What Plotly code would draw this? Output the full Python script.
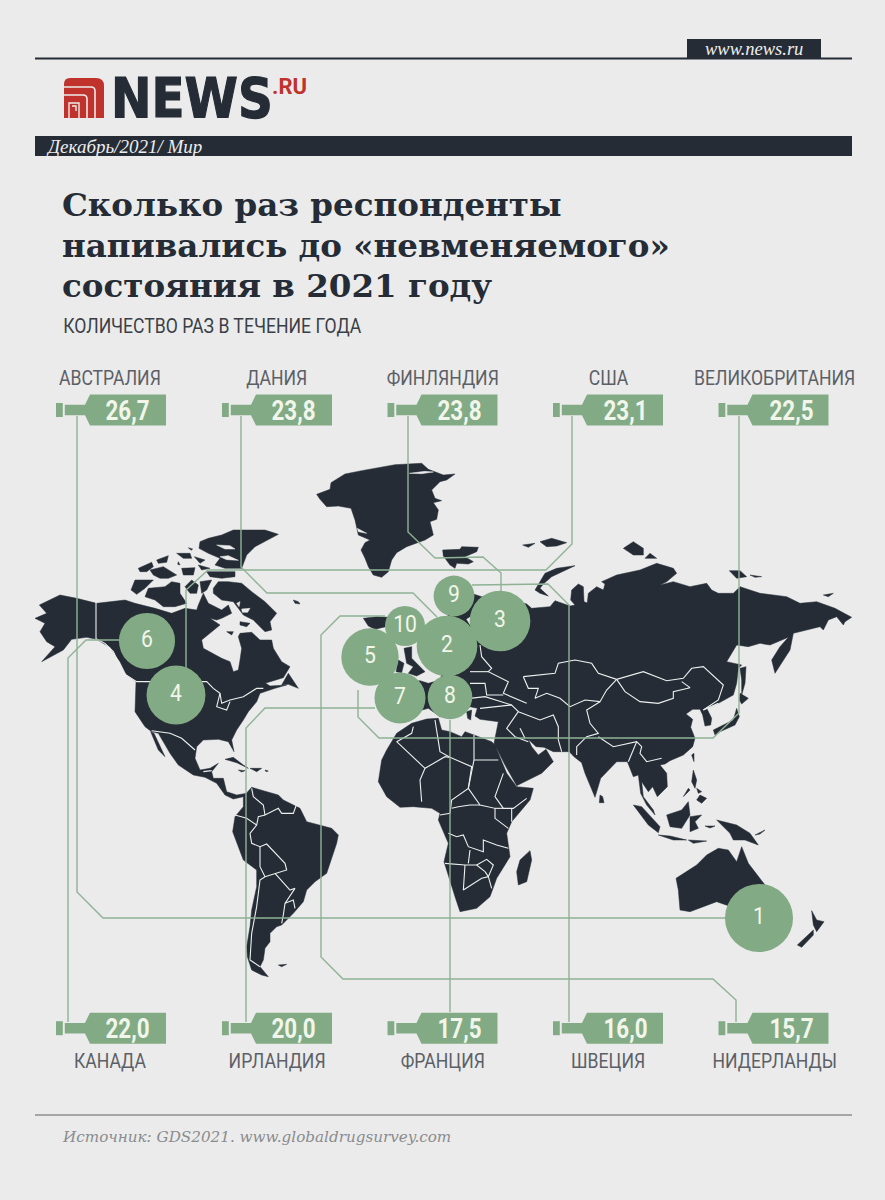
import plotly.graph_objects as go

BG = "#ebebeb"
DARK = "#252c36"
GREEN = "#82ab85"
LINE = "#8fb295"
NARROW = "Roboto"  # squeezed in the page script at the end, no condensed face installed

# order = number on the map
countries = ["АВСТРАЛИЯ", "ДАНИЯ", "ФИНЛЯНДИЯ", "США", "ВЕЛИКОБРИТАНИЯ",
             "КАНАДА", "ИРЛАНДИЯ", "ФРАНЦИЯ", "ШВЕЦИЯ", "НИДЕРЛАНДЫ"]
values = [26.7, 23.8, 23.8, 23.1, 22.5, 22.0, 20.0, 17.5, 16.0, 15.7]
value_labels = ["26,7", "23,8", "23,8", "23,1", "22,5", "22,0", "20,0", "17,5", "16,0", "15,7"]
ranks = ["1", "2", "3", "4", "5", "6", "7", "8", "9", "10"]
bubble_x = [759, 447, 500, 176, 370, 147, 400, 450, 454, 405]
bubble_y = [918, 646, 621, 695, 657, 641, 698, 697, 596, 626]
bubble_scale = 2.55


def z(ox, oy, pts):
    return [(ox + a / 3, oy + b / 3) for a, b in pts]


# connectors, top row then bottom row
connectors = [
    [(77, 416), (77, 892), (103, 918), (725, 918)],
    [(241, 416), (241, 567), (267, 593), (413, 593), (437, 617)],
    [(408, 416), (408, 532), (435, 558), (483, 557), (501, 573), (501, 591)],
    [(572, 416), (572, 544), (546, 570), (208, 570), (186, 590), (186, 668)],
    [(739, 416), (739, 713), (713, 738), (379, 738), (358, 717), (358, 690)],
    [(68, 1022), (68, 658), (86, 640), (120, 640)],
    [(246, 1022), (246, 728), (265, 708), (375, 708)],
    [(450, 1012), (450, 720)],
    [(569, 1022), (569, 605), (548, 584), (472, 585)],
    [(736, 1022), (736, 1000), (713, 979), (343, 979), (321, 957), (321, 635), (340, 616), (385, 616)],
]

land = [
    # Greenland
    z(315, 460, [(5, 103), (45, 88), (48, 68), (90, 42), (140, 32), (200, 22), (240, 14), (320, 10), (340, 28),
                 (385, 45), (420, 42), (395, 60), (375, 65), (350, 90), (360, 115), (380, 122), (355, 128),
                 (370, 150), (365, 178), (345, 185), (355, 225), (330, 240), (300, 252), (275, 260), (245, 278),
                 (230, 300), (220, 335), (200, 352), (175, 345), (160, 320), (150, 295), (138, 270), (150, 248),
                 (165, 240), (130, 225), (120, 180), (108, 145), (70, 138), (35, 140), (15, 118)]),
    # Arctic islands east
    z(300, 450, [(428, 300), (480, 298), (485, 290), (535, 292), (530, 305), (495, 320), (520, 335), (505, 342),
                 (470, 340), (465, 355), (450, 345), (430, 318)]),
    z(300, 450, [(668, 285), (705, 280), (685, 292)]),
    z(300, 450, [(720, 275), (755, 265), (800, 278), (770, 288), (740, 290)]),
    z(440, 360, [(405, 617), (375, 632), (335, 650), (310, 672), (300, 685), (325, 708), (300, 700), (285, 690),
                 (300, 665), (315, 640), (350, 625)]),
    z(440, 360, [(550, 565), (580, 545), (610, 565), (610, 585), (580, 585)]),
    z(440, 360, [(615, 595), (630, 580), (650, 595)]),
    z(440, 360, [(1150, 705), (1180, 700), (1165, 710)]),
    z(440, 360, [(868, 632), (900, 632), (920, 650), (890, 655)]),
    z(440, 360, [(930, 645), (965, 650), (945, 652)]),
    # Iceland, Britain, Ireland
    z(30, 360, [(1000, 775), (1040, 770), (1075, 772), (1068, 800), (1035, 808), (1015, 798)]),
    z(300, 450, [(312, 595), (335, 590), (335, 625), (360, 650), (375, 665), (350, 678), (325, 670), (340, 650),
                 (320, 640)]),
    z(300, 450, [(295, 630), (312, 640), (305, 668), (288, 665)]),
    z(300, 450, [(500, 785), (515, 780), (512, 810), (503, 805)]),
    # Eurasia
    z(300, 450, [(470, 800), (420, 800), (385, 775), (330, 790), (280, 760), (290, 700), (360, 692), (385, 700),
                 (420, 690), (430, 660), (420, 560), (450, 480), (450, 420), (520, 432), (545, 440), (600, 440),
                 (680, 462), (695, 475)])
    + z(440, 360, [(330, 740), (345, 722), (390, 738), (405, 735), (392, 720), (395, 690), (415, 672), (430, 680),
                   (432, 725), (445, 730), (465, 735), (450, 755), (425, 768), (408, 770), (440, 745), (445, 700),
                   (470, 680), (490, 690), (495, 672), (485, 665), (530, 645), (600, 630), (650, 610), (700, 625),
                   (710, 640), (680, 665), (660, 675), (700, 665), (750, 680), (800, 670), (815, 690), (835, 700),
                   (880, 700), (900, 680), (960, 700), (1000, 705), (1040, 710), (1080, 730), (1130, 725),
                   (1185, 745), (1235, 772), (1215, 785), (1210, 795), (1190, 770), (1165, 780), (1150, 810),
                   (1140, 800), (1060, 820), (1050, 870), (1005, 940), (995, 900), (1020, 860), (1045, 832),
                   (990, 855), (960, 850), (925, 860), (890, 855), (860, 905), (905, 915)])
    + z(470, 640, [(805, 85), (800, 130), (790, 165), (745, 190), (710, 205), (725, 235), (722, 255), (705, 258),
                   (698, 225), (690, 208), (668, 208), (648, 222), (668, 238), (662, 262), (675, 295), (668, 320),
                   (640, 345), (600, 362), (585, 372), (570, 375), (590, 400), (592, 440), (562, 470), (548, 440),
                   (535, 455), (515, 425), (520, 470), (550, 510), (555, 525), (530, 495), (512, 460), (505, 405),
                   (490, 410), (472, 365), (440, 365), (392, 415), (375, 472), (345, 400), (335, 368), (312, 350),
                   (298, 335), (250, 335), (222, 322), (198, 320), (175, 298), (185, 320), (205, 345), (228, 328),
                   (250, 365), (215, 400), (140, 437), (105, 375), (72, 310), (85, 245), (30, 238), (15, 228),
                   (22, 205), (0, 200)]),
    # Asia islands
    z(470, 640, [(390, 465), (398, 470), (402, 488), (388, 488)]),
    z(470, 640, [(810, 85), (828, 80), (825, 130), (815, 165), (815, 120)]),
    z(470, 640, [(810, 160), (835, 175), (815, 192), (808, 180)]),
    z(470, 640, [(730, 270), (760, 255), (790, 240), (800, 205), (808, 230), (795, 255), (750, 275), (735, 285)]),
    z(470, 640, [(665, 345), (672, 340), (672, 365)]),
    z(440, 760, [(580, 135), (605, 140), (660, 200), (655, 218), (625, 195)]),
    z(440, 760, [(655, 225), (690, 228), (740, 240), (700, 240)]),
    z(440, 760, [(745, 240), (800, 243), (760, 250)]),
    z(440, 760, [(680, 165), (725, 150), (745, 125), (750, 165), (725, 205), (690, 200)]),
    z(440, 760, [(750, 170), (785, 165), (765, 185), (775, 205), (750, 215)]),
    z(440, 760, [(830, 180), (850, 185), (890, 195), (930, 220), (955, 255), (915, 240), (880, 240), (870, 220),
                 (855, 205)]),
    z(440, 760, [(945, 225), (975, 210), (960, 222)]),
    z(440, 760, [(760, 30), (770, 60), (765, 85), (755, 65)]),
    z(440, 760, [(780, 105), (800, 115), (785, 130), (770, 120)]),
    z(440, 760, [(770, 85), (785, 95), (775, 100)]),
    z(440, 760, [(745, 85), (730, 110), (750, 90)]),
    z(440, 760, [(795, 198), (825, 198), (810, 204)]),
    # Australia, New Zealand
    z(440, 760, [(708, 355), (770, 315), (800, 285), (835, 265), (865, 270), (890, 305), (905, 260), (925, 310),
                 (975, 375), (1000, 420), (960, 470), (870, 440), (830, 425), (790, 440), (750, 455), (720, 450),
                 (715, 390)]),
    z(440, 760, [(1115, 452), (1130, 480), (1152, 485), (1130, 515), (1120, 495)]),
    z(440, 760, [(1120, 510), (1120, 525), (1085, 562), (1072, 555)]),
    # North America
    z(30, 360, [(35, 905), (100, 870), (125, 838), (170, 832), (200, 838), (240, 862), (270, 905), (290, 945),
                (318, 965), (315, 1020)])
    + z(30, 700, [(315, 35), (345, 80), (365, 95), (385, 100), (420, 160), (445, 195), (490, 225), (525, 232),
                  (560, 250), (585, 285), (610, 297), (640, 290), (650, 280), (620, 285), (590, 275), (580, 235),
                  (550, 235), (545, 215), (565, 190), (540, 205), (510, 210), (495, 175), (500, 140), (520, 120),
                  (565, 118), (595, 125), (612, 155), (605, 120), (620, 90), (640, 60), (655, 35), (680, 5)])
    + z(30, 360, [(690, 1000), (735, 985), (770, 975), (720, 978), (700, 965)])
    + z(125, 525, [(420, 475), (475, 458), (495, 425), (470, 410), (445, 370), (440, 345), (405, 345), (380, 322),
                   (345, 325), (340, 335), (350, 370), (345, 405), (340, 435), (325, 440), (315, 410), (290, 400),
                   (235, 370), (230, 345), (285, 300), (255, 280), (275, 285), (290, 280), (320, 265), (310, 240),
                   (290, 255), (250, 235), (235, 205), (220, 240), (215, 255), (180, 250), (140, 265), (90, 250),
                   (30, 235), (0, 225)])
    + z(30, 360, [(200, 730), (140, 715), (90, 705), (28, 735), (50, 760), (15, 775), (45, 790), (30, 815),
                  (50, 845), (75, 860)]),
    z(30, 700, [(362, 95), (372, 100), (405, 170), (385, 150)]),
    z(125, 525, [(470, 480), (490, 445), (520, 490), (490, 478)]),
    z(125, 525, [(505, 225), (520, 230), (525, 237), (510, 235)]),
    # Canadian Arctic
    z(125, 525, [(250, 40), (290, 30), (325, 15), (385, 15), (420, 15), (460, 28), (420, 50), (390, 65), (365, 90),
                 (350, 130), (300, 130), (270, 120), (285, 100), (250, 85), (222, 70), (225, 50)]),
    z(125, 525, [(245, 140), (290, 140), (330, 140), (330, 155), (290, 160), (255, 155)]),
    z(125, 525, [(155, 85), (195, 85), (200, 100), (175, 100)]),
    z(125, 525, [(190, 68), (203, 72), (198, 76)]),
    z(125, 525, [(208, 95), (240, 105), (225, 115)]),
    z(125, 525, [(160, 110), (165, 120), (158, 118)]),
    z(125, 525, [(220, 120), (255, 130), (230, 135)]),
    z(125, 525, [(95, 105), (130, 92), (125, 112), (100, 115)]),
    z(125, 525, [(40, 130), (80, 112), (85, 125), (65, 140), (45, 140)]),
    z(125, 525, [(75, 135), (115, 125), (155, 150), (130, 160), (105, 160), (85, 150)]),
    z(125, 525, [(170, 130), (210, 128), (205, 150), (175, 150)]),
    z(125, 525, [(18, 195), (30, 165), (85, 165), (60, 190), (35, 208)]),
    z(125, 525, [(70, 190), (120, 185), (140, 170), (165, 175), (165, 205), (185, 235), (150, 245), (115, 245),
                 (90, 225), (60, 215)]),
    z(125, 525, [(180, 185), (200, 165), (220, 180), (215, 205), (195, 205)]),
    z(125, 525, [(225, 170), (260, 165), (245, 195), (230, 205)]),
    z(125, 525, [(265, 190), (280, 170), (310, 170), (350, 175), (380, 200), (420, 230), (455, 265), (435, 290),
                 (440, 315), (420, 320), (385, 285), (355, 270), (325, 230), (290, 225), (265, 205)]),
    z(125, 525, [(345, 290), (375, 295), (365, 305), (345, 300)]),
    z(125, 525, [(305, 320), (325, 320), (320, 330)]),
    # Caribbean
    z(30, 700, [(585, 178), (610, 172), (640, 195), (655, 205), (620, 188)]),
    z(30, 700, [(660, 205), (695, 205), (680, 215)]),
    z(30, 700, [(625, 210), (645, 212), (635, 216)]),
    z(30, 700, [(705, 210), (715, 213), (708, 215)]),
    # South America
    z(30, 700, [(640, 290), (665, 262), (700, 272), (745, 285), (760, 300), (810, 325), (830, 365), (870, 375),
                (905, 385), (925, 405), (920, 430), (890, 520), (855, 545), (830, 570), (820, 605), (790, 640),
                (770, 660), (755, 675), (740, 680), (720, 700), (720, 725), (705, 745), (700, 780), (690, 800),
                (715, 830), (695, 825), (665, 810), (652, 770), (650, 740), (660, 680), (665, 630), (680, 560),
                (680, 510), (640, 480), (608, 395), (615, 350), (640, 320)]),
    z(30, 700, [(745, 795), (770, 793), (755, 800)]),
    # Africa
    z(370, 700, [(80, 100), (125, 70), (170, 57), (205, 55), (215, 90), (240, 95), (275, 110), (285, 95), (312, 105),
                 (365, 125), (375, 135), (410, 220), (440, 260), (490, 265), (480, 300), (425, 365), (410, 400),
                 (420, 470), (380, 535), (360, 590), (320, 625), (270, 635), (255, 590), (240, 540), (222, 485),
                 (235, 430), (205, 360), (210, 340), (185, 325), (130, 320), (90, 322), (50, 290), (25, 245),
                 (35, 180), (50, 150)]),
    z(370, 700, [(480, 452), (485, 480), (470, 545), (445, 555), (440, 515), (450, 480)]),
]

# Baltic gap between bubbles, fjords, channels, lakes on Baffin
water = [
    z(300, 450, [(500, 508), (512, 500), (512, 527)]),
    z(315, 460, [(283, 40), (330, 34), (355, 36), (320, 41)]),
    z(315, 460, [(127, 205), (155, 220), (130, 215)]),
    z(125, 525, [(275, 60), (315, 62), (330, 72), (300, 72)]),
    z(125, 525, [(285, 95), (310, 92), (340, 106), (305, 104)]),
    z(125, 525, [(335, 235), (345, 230), (342, 245)]),
    z(125, 525, [(350, 252), (375, 250), (368, 262), (352, 262)]),
]

borders = [
    # North America
    z(30, 360, [(198, 725), (198, 836), (225, 850), (250, 875), (280, 940), (320, 965), (530, 965), (550, 985),
                (570, 1000), (575, 1030), (600, 1020), (640, 1010), (680, 985), (700, 985)]),
    z(30, 360, [(570, 1000), (560, 1040), (590, 1050), (600, 1025)]),
    z(30, 700, [(365, 92), (420, 100), (455, 115), (495, 150)]),
    z(30, 700, [(520, 215), (545, 212)]),
    # South America
    z(30, 700, [(665, 265), (670, 290), (700, 315), (705, 345), (745, 325), (755, 340), (790, 340), (800, 312)]),
    z(30, 700, [(705, 345), (685, 350), (680, 375), (660, 400), (665, 430), (690, 440), (710, 432), (765, 490),
                (770, 510), (735, 520), (705, 530), (690, 540), (680, 620), (665, 700), (660, 780), (690, 800)]),
    z(30, 700, [(615, 345), (650, 355), (680, 375)]),
    z(30, 700, [(690, 440), (690, 500), (705, 530)]),
    z(30, 700, [(735, 520), (780, 570), (795, 565), (765, 610), (760, 645), (755, 670)]),
    z(30, 700, [(765, 610), (790, 600), (795, 625)]),
    # Africa
    z(370, 700, [(80, 125), (165, 205), (225, 170), (240, 172), (305, 200), (295, 265), (245, 300), (240, 340),
                 (210, 345)]),
    z(370, 700, [(165, 205), (150, 240), (155, 305)]),
    z(370, 700, [(130, 80), (125, 100), (80, 125)]),
    z(370, 700, [(195, 60), (210, 155), (240, 172)]),
    z(370, 700, [(312, 105), (312, 180), (385, 180)]),
    z(370, 700, [(312, 180), (295, 265), (330, 315), (375, 325), (375, 355), (415, 385)]),
    z(370, 700, [(245, 325), (265, 320), (300, 315), (330, 315)]),
    z(370, 700, [(400, 220), (375, 290), (400, 325), (430, 325), (470, 295)]),
    z(370, 700, [(425, 325), (425, 365)]),
    z(370, 700, [(375, 325), (400, 325)]),
    z(370, 700, [(235, 400), (260, 410), (280, 405), (295, 440), (340, 455), (340, 420), (380, 435), (415, 445)]),
    z(370, 700, [(225, 490), (285, 495), (320, 495), (345, 515)]),
    z(370, 700, [(300, 450), (295, 490)]),
    z(370, 700, [(320, 495), (350, 478), (370, 495), (355, 530), (345, 515)]),
    z(370, 700, [(285, 495), (280, 570), (335, 535), (355, 530), (365, 565)]),
    # Asia
    z(470, 640, [(30, 15), (35, 50), (65, 85), (55, 95), (115, 125), (100, 160), (170, 190)]),
    z(470, 640, [(0, 95), (55, 95)]),
    z(470, 640, [(0, 130), (45, 130), (50, 165), (100, 165)]),
    z(470, 640, [(0, 175), (45, 170), (125, 195)]),
    z(470, 640, [(160, 110), (255, 100), (265, 70), (315, 60), (365, 70), (385, 100), (440, 118), (520, 95),
                 (590, 122), (640, 115), (665, 85), (700, 80), (760, 135), (745, 180), (700, 210)]),
    z(470, 640, [(440, 118), (465, 155), (510, 185), (565, 190), (610, 175), (610, 155), (660, 143), (635, 125)]),
    z(470, 640, [(160, 110), (175, 145), (205, 145), (195, 175), (230, 160), (270, 175), (300, 200), (345, 180),
                 (390, 185), (410, 150), (440, 118)]),
    z(470, 640, [(390, 185), (350, 210), (360, 250), (385, 280), (350, 290), (320, 320), (320, 345)]),
    z(470, 640, [(385, 290), (430, 320), (500, 305), (515, 320), (510, 340), (530, 365), (575, 355)]),
    z(470, 640, [(500, 305), (475, 365)]),
    z(470, 640, [(145, 215), (170, 225), (210, 240), (250, 225), (265, 260), (265, 300), (275, 335)]),
    z(470, 640, [(30, 205), (125, 195), (145, 215), (110, 265), (135, 290), (175, 305)]),
    z(470, 640, [(150, 265), (165, 295)]),
    z(470, 640, [(700, 210), (745, 190)]),
]

fig = go.Figure()


def add_polys(polys, color):
    xs, ys = [], []
    for p in polys:
        xs += [q[0] for q in p] + [p[0][0], None]
        ys += [q[1] for q in p] + [p[0][1], None]
    fig.add_trace(go.Scatter(x=xs, y=ys, mode="lines", fill="toself", fillcolor=color,
                             line=dict(color=color, width=0.5), hoverinfo="skip"))


def add_lines(paths, color, width):
    xs, ys = [], []
    for p in paths:
        xs += [q[0] for q in p] + [None]
        ys += [q[1] for q in p] + [None]
    fig.add_trace(go.Scatter(x=xs, y=ys, mode="lines", line=dict(color=color, width=width), hoverinfo="skip"))


add_polys(land, DARK)
add_polys(water, BG)
add_lines(borders, "#eef0ee", 1.1)
add_lines(connectors, LINE, 1.4)

fig.add_trace(go.Scatter(
    x=bubble_x, y=bubble_y, mode="markers+text", text=ranks, textposition="middle center",
    marker=dict(size=[v * bubble_scale for v in values], color=GREEN, line=dict(width=0), opacity=1),
    textfont=dict(family=NARROW, size=24, color="#f2f6ea"), hoverinfo="skip"))

# bottles
shapes = []
annotations = []
col_left = [56, 222, 387.5, 553, 718.5]
label_x = [110, 277, 443, 608, 774]
value_x = [127, 293, 459, 625, 791]
for i in range(10):
    col = i % 5
    top = i < 5
    left = col_left[col]
    y0 = 394.5 if top else 1012.7
    mid = y0 + 15.5
    shapes.append(dict(type="rect", x0=left, x1=left + 6.8, y0=mid - 7, y1=mid + 7,
                       fillcolor=GREEN, line_width=0))
    path = (f"M{left + 8.8},{mid - 5.3} L{left + 29},{mid - 5.3} L{left + 34},{y0} L{left + 110},{y0} "
            f"L{left + 110},{y0 + 31} L{left + 34},{y0 + 31} L{left + 29},{mid + 5.3} L{left + 8.8},{mid + 5.3} Z")
    shapes.append(dict(type="path", path=path, fillcolor=GREEN, line_width=0))
    annotations.append(dict(x=value_x[col], y=mid, text=value_labels[i], showarrow=False,
                            font=dict(family=NARROW, size=28, color="#f2f6ea", weight="bold")))
    annotations.append(dict(x=label_x[col], y=378 if top else 1061, text=countries[i], showarrow=False,
                            font=dict(family=NARROW, size=20, color="#5c6066")))

# header and footer
shapes += [
    dict(type="line", x0=35, x1=852, y0=58.5, y1=58.5, line=dict(color=DARK, width=2)),
    dict(type="rect", x0=687, x1=821, y0=39, y1=58, fillcolor=DARK, line_width=0),
    dict(type="rect", x0=35, x1=852, y0=136, y1=156, fillcolor=DARK, line_width=0),
    dict(type="line", x0=35, x1=852, y0=1115, y1=1115, line=dict(color="#8c8f92", width=1.5)),
    # logo mark
    dict(type="path", path="M64,84 Q64,78 70,78 L96,78 Q104,78 104,86 L104,118 L64,118 Z",
         fillcolor="#c0322c", line_width=0),
    dict(type="path", path="M64,87 L91,87 Q95,87 95,91 L95,118", line=dict(color=BG, width=1.6)),
    dict(type="path", path="M64,95 L83,95 Q87,95 87,99 L87,118", line=dict(color=BG, width=1.6)),
    dict(type="path", path="M69,118 L69,103 L79,103 L79,118", line=dict(color=BG, width=1.4)),
    dict(type="path", path="M72,106 L76,106 L76,111", line=dict(color=BG, width=1.4)),
]


def text_left(x, y, text, **font):
    annotations.append(dict(x=x, y=y, text=text, showarrow=False, xanchor="left", font=font))


def text_mid(x, y, text, **font):
    annotations.append(dict(x=x, y=y, text=text, showarrow=False, font=font))


text_mid(191.5, 98, "NEWS", family="DejaVu Sans", size=55, color=DARK, weight="bold")
text_mid(289.5, 86, ".RU", family=NARROW, size=22, color="#c0322c", weight="bold")
text_left(44, 146, "Декабрь/2021/ Мир", family="Liberation Serif", size=19, color="#eeeeee", style="italic")
text_mid(754, 49, "www.news.ru", family="Liberation Serif", size=18.5, color="#eeeeee", style="italic")
title_lines = ["Сколько раз респонденты", "напивались до «невменяемого»", "состояния в 2021 году"]
for line, y in zip(title_lines, [204, 245, 285]):
    text_left(60, y, line, family="DejaVu Serif", size=32.5, color=DARK, weight="bold")
text_mid(212.5, 326, "КОЛИЧЕСТВО РАЗ В ТЕЧЕНИЕ ГОДА", family=NARROW, size=20, color="#3a3f47")
text_left(60, 1137, "Источник: GDS2021. www.globaldrugsurvey.com", family="DejaVu Serif", size=15.2,
          color="#8a8c8e", style="italic")

fig.update_layout(
    width=885, height=1200, margin=dict(l=0, r=0, t=0, b=0), showlegend=False,
    paper_bgcolor=BG, plot_bgcolor=BG, shapes=shapes, annotations=annotations,
    xaxis=dict(range=[0, 885], visible=False, fixedrange=True),
    yaxis=dict(range=[1200, 0], visible=False, fixedrange=True),
)

page_js = """
document.body.style.margin = '0';
document.body.style.background = '#ebebeb';
document.querySelectorAll('svg text').forEach(function (t) {
    var roboto = (t.style.fontFamily || '').includes('Roboto');
    var k = 1;
    if (t.textContent === 'NEWS') k = 0.88;
    else if (roboto && t.textContent !== '.RU') k = String(t.style.fontWeight) === '700' || t.style.fontWeight === 'bold' ? 0.8 : 0.88;
    if (k < 1) {
        t.setAttribute('lengthAdjust', 'spacingAndGlyphs');
        t.setAttribute('textLength', t.getComputedTextLength() * k);
    }
    if (t.textContent === 'NEWS') { t.style.stroke = '#252c36'; t.style.strokeWidth = '1.2px'; }
});
"""
fig.write_html("out.html", config=dict(displayModeBar=False), post_script=page_js)
